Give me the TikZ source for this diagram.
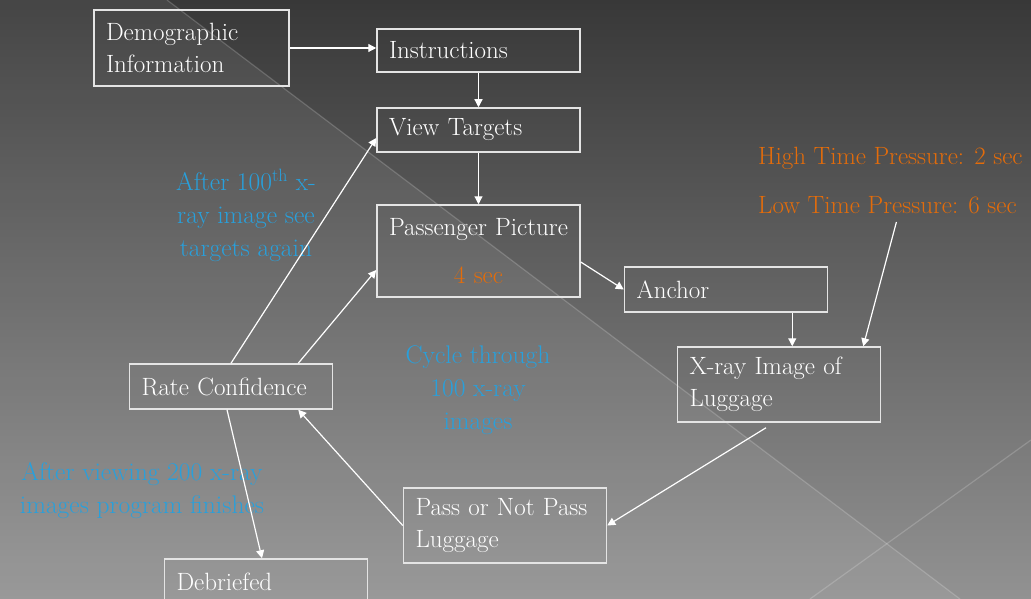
\documentclass[tikz,border=0pt]{standalone}
\usetikzlibrary{arrows.meta,positioning}
\definecolor{bgtop}{RGB}{56,56,56}
\definecolor{bgbottom}{RGB}{146,146,146}
\definecolor{noteblue}{RGB}{40,160,220}
\definecolor{noteorange}{RGB}{228,108,10}
\definecolor{boxline}{RGB}{228,228,228}

\begin{document}
\begin{tikzpicture}[x=1pt,y=-1pt,
		box/.style={draw=boxline, line width=1.5pt, text=white, align=left, inner xsep=12pt, inner ysep=0pt, font=\fontsize{25}{32}\selectfont},
		note/.style={text=noteblue, align=center, inner sep=0pt, font=\fontsize{25.5}{33}\selectfont},
		timing/.style={text=noteorange, inner sep=0pt, font=\fontsize{25}{32}\selectfont},
		flow/.style={draw=white, line width=1.2pt, -{Triangle[length=8pt,width=8pt]}}]
	\useasboundingbox (0,0) rectangle (1031,599);
	\clip (0,0) rectangle (1031,599);
	% backdrop
	\shade[top color=bgtop, bottom color=bgbottom] (0,0) rectangle (1031,599);
	\fill[white, opacity=0.07] (0,0) -- (167,0) -- (960,599) -- (0,599) -- cycle;
	\draw[white, opacity=0.18, line width=1.2pt] (167,0) -- (960,599);
	\draw[white, opacity=0.18, line width=1.2pt] (1031,440) -- (810,599);

	% boxes
	\node[box, text width=171pt, minimum height=76pt] (demo) at (191.5,48) {Demographic\\Information};
	\node[box, text width=179pt, minimum height=43pt] (instr) at (478.5,50.5) {Instructions};
	\node[box, text width=179pt, minimum height=44pt] (view) at (478.5,130) {View Targets};
	\node[box, text width=179pt, minimum height=92pt, align=center] (pp) at (478.5,251) {Passenger Picture\\[16pt]{\color{noteorange}4 sec}};
	\node[box, text width=179pt, minimum height=45pt] (anchor) at (726,289.5) {Anchor};
	\node[box, text width=179pt, minimum height=75pt] (xray) at (779,384.5) {X-ray Image of\\Luggage};
	\node[box, text width=179pt, minimum height=45pt] (rate) at (231,386.5) {Rate Confidence};
	\node[box, text width=179pt, minimum height=75pt] (decide) at (505,525.5) {Pass or Not Pass\\Luggage};
	\node[box, text width=179pt, minimum height=45pt] (debrief) at (266,581.5) {Debriefed};

	% notes
	\node[note] (again) at (246,215) {After 100\textsuperscript{th} x-\\ray image see\\targets again};
	\node[note] (cycle) at (478,390) {Cycle through\\100 x-ray\\images};
	\node[note] (finish) at (142,491) {After viewing 200 x-ray\\images program finishes};
	\node[timing, anchor=west] (hightp) at (758,158) {High Time Pressure: 2 sec};
	\node[timing, anchor=west] (lowtp) at (758,205) {Low Time Pressure: 6 sec};

	% arrows
	\draw[flow] (demo.east) -- (demo.east -| instr.west);
	\draw[flow] (instr) -- (view);
	\draw[flow] (view) -- (pp);
	\draw[flow] ([yshift=-11pt]pp.east) -- (anchor.west);
	\draw[flow] ([xshift=-36pt]anchor.south east) -- ([xshift=-36pt]anchor.south east |- xray.north);
	\draw[flow] ([xshift=9pt,yshift=-8pt]lowtp.south) -- ([xshift=-18pt]xray.north east);
	\draw[flow] ([xshift=-13pt,yshift=-5pt]xray.south) -- (decide.east);
	\draw[flow] (decide.west) -- ([xshift=-35pt]rate.south east);
	\draw[flow] (rate.north) -- ([yshift=-8pt]view.west);
	\draw[flow] ([xshift=-35pt]rate.north east) -- ([yshift=-19pt]pp.west);
	\draw[flow] ([xshift=-4pt]rate.south) -- ([xshift=-4pt]debrief.north);
\end{tikzpicture}
\end{document}
